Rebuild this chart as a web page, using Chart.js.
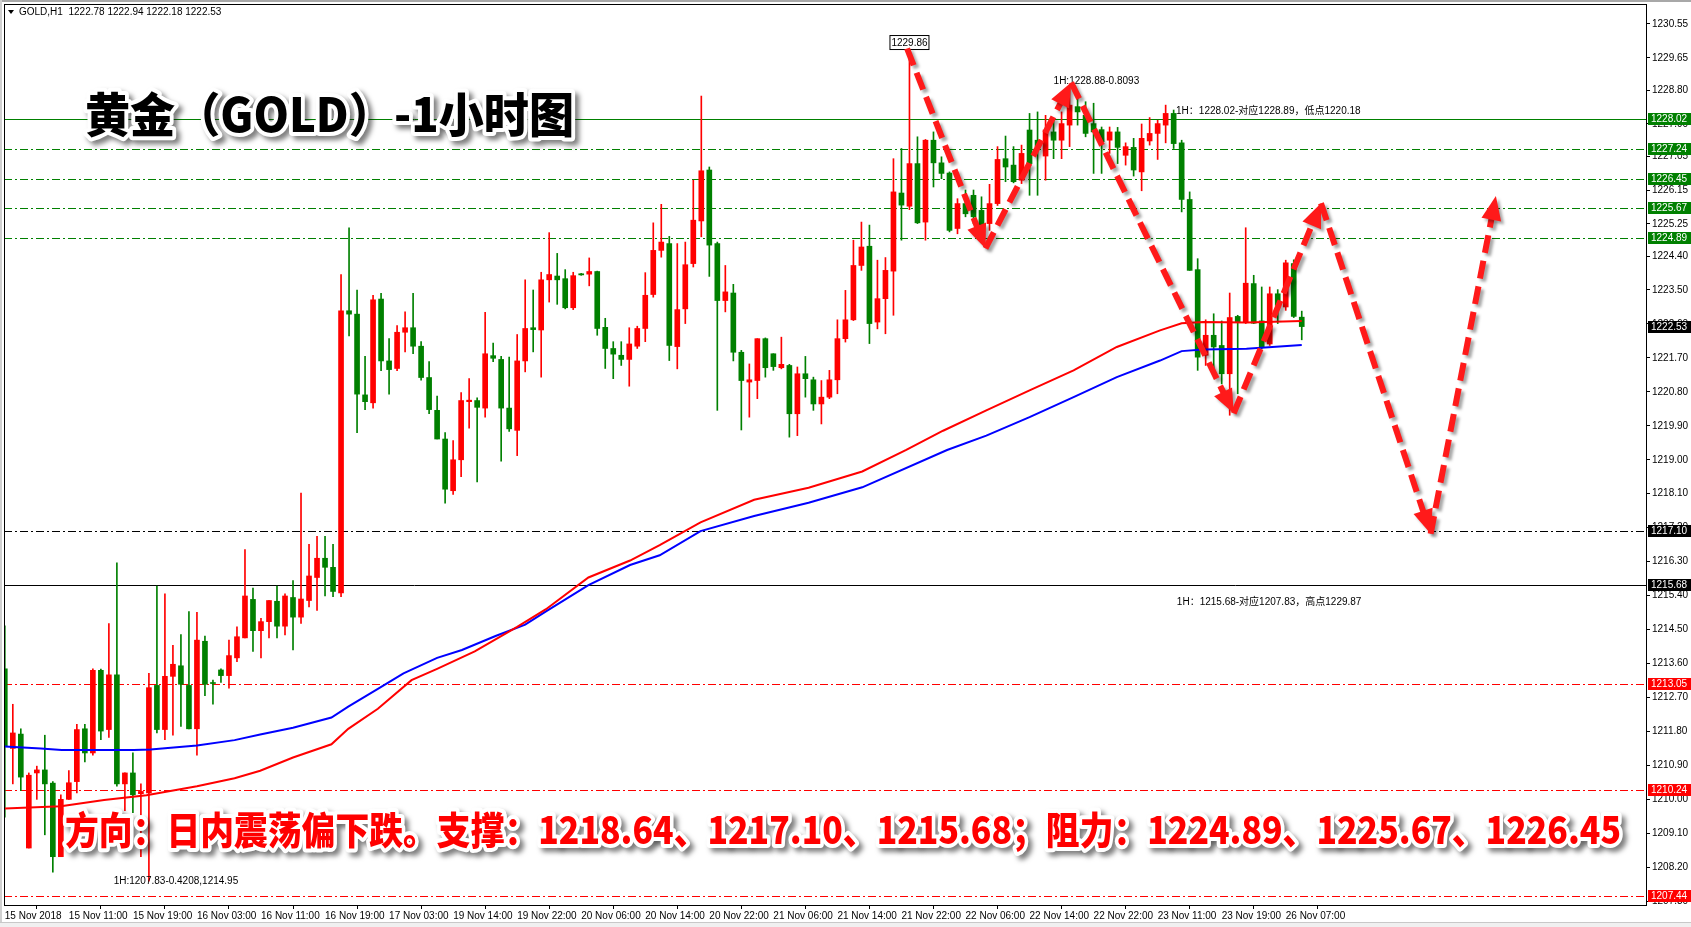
<!DOCTYPE html>
<html>
<head>
<meta charset="utf-8">
<script src="https://cdn.jsdelivr.net/npm/chart.js@4.4.1/dist/chart.umd.min.js"></script>
<style>
html, body { margin: 0; padding: 0; background: #fff; overflow: hidden; }
</style>
</head>
<body>
<canvas id="myChart" width="1691" height="927"></canvas>
<script>
// GOLD H1 candles (bar index 0 = 15 Nov 2018 03:00)
const opens = [1213.46,1211.35,1211.73,1208.71,1210.70,1210.78,1210.43,1208.48,1210.00,1210.47,
  1211.87,1211.23,1213.42,1211.85,1213.30,1210.41,1210.70,1210.15,1210.17,1213.02,
  1211.85,1213.26,1213.54,1213.02,1211.87,1214.19,1213.09,1213.43,1213.28,1213.75,
  1214.28,1215.30,1214.47,1214.71,1215.25,1214.59,1215.35,1214.83,1215.27,1215.88,
  1216.39,1216.15,1215.47,1222.95,1222.86,1220.72,1220.51,1223.26,1221.62,1221.42,
  1222.38,1222.50,1222.01,1221.18,1220.31,1219.55,1218.18,1219.00,1220.54,1220.57,
  1220.37,1221.76,1221.66,1220.37,1219.78,1221.62,1222.50,1222.44,1223.77,1223.87,
  1223.80,1223.03,1223.93,1223.92,1223.99,1222.51,1221.95,1221.77,1221.66,1222.01,
  1222.48,1223.38,1224.55,1224.73,1222.00,1223.00,1224.20,1225.33,1226.68,1224.73,
  1223.22,1223.42,1221.85,1221.06,1221.10,1222.21,1221.81,1221.44,1221.50,1220.22,
  1221.28,1221.12,1220.48,1220.66,1221.12,1222.21,1222.71,1224.15,1224.66,1222.65,
  1223.27,1224.00,1226.07,1225.72,1226.85,1225.30,1227.47,1226.87,1226.60,1225.13,
  1225.79,1226.01,1225.61,1225.26,1225.79,1226.98,1226.81,1226.41,1227.74,1227.47,
  1227.05,1227.69,1227.47,1227.87,1228.36,1228.13,1227.91,1227.75,1227.47,1227.69,
  1227.07,1227.28,1226.63,1227.45,1227.65,1227.87,1228.18,1227.40,1225.90,1224.04,
  1221.77,1222.30,1222.03,1221.28,1222.80,1222.65,1223.67,1222.68,1222.07,1223.40,
  1223.05,1224.20,1222.78];
const highs = [1214.60,1212.52,1211.87,1210.70,1210.88,1211.70,1210.47,1210.12,1210.76,1211.99,
  1211.99,1213.46,1213.45,1214.66,1216.27,1210.70,1211.23,1210.41,1213.34,1215.65,
  1215.45,1214.08,1214.37,1214.98,1214.96,1214.33,1213.16,1213.46,1214.22,1214.57,
  1216.62,1215.60,1214.80,1215.27,1215.65,1215.45,1215.80,1218.12,1216.76,1216.97,
  1216.97,1216.76,1223.91,1225.15,1223.50,1221.74,1223.36,1223.41,1222.21,1222.56,
  1222.92,1223.41,1222.13,1221.60,1220.69,1219.72,1219.51,1220.78,1221.15,1220.64,
  1222.91,1222.09,1221.74,1221.72,1222.32,1223.77,1223.50,1223.97,1225.02,1224.47,
  1224.04,1223.97,1223.94,1224.35,1224.00,1222.75,1222.13,1222.13,1222.50,1222.54,
  1223.96,1225.28,1225.77,1224.92,1224.73,1224.77,1226.41,1228.64,1226.76,1224.77,
  1224.15,1223.65,1221.90,1221.54,1222.21,1222.23,1221.81,1222.25,1221.53,1221.46,
  1221.74,1221.19,1221.10,1221.37,1222.71,1223.49,1224.82,1225.30,1225.22,1224.29,
  1224.36,1226.98,1227.25,1229.86,1227.56,1227.49,1227.69,1227.03,1226.63,1225.92,
  1226.15,1226.15,1225.97,1226.30,1227.30,1227.58,1227.30,1227.34,1228.18,1228.22,
  1228.13,1228.00,1228.22,1228.88,1228.62,1228.49,1228.45,1227.82,1227.82,1227.81,
  1227.40,1227.52,1227.90,1228.07,1228.00,1228.40,1228.27,1227.47,1226.10,1224.33,
  1222.71,1222.87,1222.68,1223.42,1222.83,1225.15,1223.89,1223.58,1223.58,1223.51,
  1224.29,1224.30,1222.94];
const lows = [1209.53,1210.41,1210.23,1208.71,1210.00,1209.06,1208.07,1208.48,1210.00,1210.17,
  1210.99,1211.17,1211.58,1211.64,1210.35,1209.70,1209.65,1208.48,1207.83,1211.76,
  1211.58,1211.70,1211.93,1211.87,1211.17,1212.75,1212.52,1213.10,1212.95,1213.65,
  1214.28,1213.92,1213.75,1214.28,1214.28,1214.36,1213.96,1214.66,1215.10,1215.01,
  1215.39,1215.37,1215.37,1222.28,1219.72,1220.33,1220.37,1221.36,1220.74,1221.36,
  1221.86,1221.81,1221.11,1220.22,1219.55,1217.85,1218.08,1218.55,1219.84,1218.41,
  1220.13,1221.60,1218.96,1219.75,1219.11,1221.33,1221.86,1221.19,1223.18,1223.12,
  1223.00,1222.98,1223.89,1223.61,1222.30,1221.42,1221.15,1221.50,1220.95,1221.95,
  1222.13,1223.31,1224.37,1221.63,1221.41,1222.61,1224.11,1224.91,1223.86,1220.31,
  1222.92,1221.62,1219.79,1220.13,1220.62,1221.19,1221.37,1221.41,1219.60,1219.64,
  1220.66,1220.31,1219.95,1220.62,1220.75,1222.12,1222.69,1224.02,1222.08,1222.47,
  1222.34,1222.83,1224.82,1225.63,1225.26,1224.82,1226.23,1226.45,1225.04,1224.99,
  1225.44,1225.26,1225.17,1225.08,1225.74,1226.37,1226.34,1226.32,1226.01,1226.01,
  1226.41,1226.98,1226.98,1227.30,1227.87,1227.56,1226.59,1226.59,1227.12,1226.85,
  1226.81,1226.52,1226.13,1227.34,1226.96,1227.40,1227.25,1225.57,1224.02,1221.37,
  1221.50,1221.37,1221.01,1220.18,1220.75,1222.61,1222.61,1221.94,1222.03,1222.61,
  1222.96,1222.77,1222.18];
const closes = [1211.40,1211.76,1210.59,1210.64,1210.78,1210.41,1208.48,1210.00,1210.44,1211.85,
  1211.23,1213.42,1211.81,1213.30,1210.41,1210.70,1210.12,1210.21,1212.96,1211.85,
  1213.26,1213.58,1213.05,1211.87,1214.22,1213.05,1213.07,1213.28,1213.81,1214.31,
  1215.39,1214.47,1214.71,1215.27,1214.59,1215.39,1214.83,1215.31,1215.92,1216.39,
  1216.15,1215.51,1222.95,1222.86,1220.74,1220.54,1223.24,1221.62,1221.39,1222.38,
  1222.50,1222.01,1221.18,1220.33,1219.55,1218.22,1219.00,1220.57,1220.58,1220.39,
  1221.81,1221.69,1220.37,1219.82,1221.62,1222.48,1222.45,1223.77,1223.91,1223.77,
  1223.03,1223.88,1223.90,1223.99,1222.48,1221.95,1221.80,1221.66,1222.07,1222.48,
  1223.36,1224.55,1224.77,1222.03,1222.98,1224.17,1225.35,1226.66,1224.69,1223.22,
  1223.45,1221.85,1221.10,1221.12,1222.21,1221.44,1221.47,1221.53,1220.22,1221.28,
  1221.15,1220.48,1220.66,1221.12,1222.21,1222.71,1224.15,1224.64,1222.61,1223.27,
  1224.02,1226.10,1225.75,1226.85,1225.28,1227.47,1226.87,1226.59,1225.08,1225.79,
  1225.52,1225.44,1225.22,1225.79,1226.96,1226.76,1226.37,1227.12,1226.85,1227.30,
  1227.74,1227.47,1227.91,1228.40,1228.22,1227.65,1227.69,1227.43,1227.69,1227.28,
  1227.30,1226.68,1227.52,1227.65,1227.91,1228.18,1227.38,1225.90,1224.02,1221.72,
  1222.30,1221.99,1221.28,1222.77,1222.65,1223.68,1222.62,1221.99,1223.40,1223.09,
  1224.22,1222.80,1222.53];

// moving averages, points [bar, price]
const maRed = [[0,1209.76],[7,1209.82],[12.4,1209.98],[17.7,1210.11],[24,1210.35],[28.7,1210.56],
  [31.9,1210.76],[36,1211.11],[40.8,1211.46],[42.9,1211.87],[46.6,1212.40],[50.8,1213.16],
  [54,1213.46],[58.7,1213.92],[64,1214.57],[67.6,1215.04],[72.9,1215.88],[78.1,1216.33],
  [81.8,1216.74],[86.9,1217.34],[93.6,1217.94],[100.4,1218.26],[107.1,1218.69],[112.6,1219.26],
  [117.2,1219.77],[122.6,1220.31],[128,1220.84],[133.5,1221.37],[138.9,1221.99],[144.3,1222.43],
  [147,1222.62],[149.7,1222.65],[155.1,1222.64],[162,1222.68]];
const maBlue = [[0,1211.40],[4.5,1211.35],[7.1,1211.31],[16.1,1211.31],[18.2,1211.32],[24,1211.43],
  [28.7,1211.57],[31.9,1211.72],[36,1211.90],[40.8,1212.17],[42.9,1212.46],[46.6,1212.93],
  [49.8,1213.34],[54,1213.75],[57.1,1213.96],[61.3,1214.33],[65,1214.63],[67.6,1214.98],
  [72.9,1215.68],[78.1,1216.21],[81.8,1216.47],[86.9,1217.11],[93.6,1217.51],[100.4,1217.86],
  [107.1,1218.27],[117.7,1219.26],[122.6,1219.64],[128,1220.13],[133.5,1220.66],[138.9,1221.19],
  [144.3,1221.63],[147,1221.88],[149.7,1221.92],[155.1,1221.94],[162,1222.04]];

// axis ticks
const xTickBars = [0,8,16,24,32,40,48,56,64,72,80,88,96,104,112,120,128,136,144,152,160];
const xTickLabels = ['15 Nov 2018','15 Nov 11:00','15 Nov 19:00','16 Nov 03:00','16 Nov 11:00',
  '16 Nov 19:00','17 Nov 03:00','19 Nov 14:00','19 Nov 22:00','20 Nov 06:00','20 Nov 14:00',
  '20 Nov 22:00','21 Nov 06:00','21 Nov 14:00','21 Nov 22:00','22 Nov 06:00','22 Nov 14:00',
  '22 Nov 22:00','23 Nov 11:00','23 Nov 19:00','26 Nov 07:00'];
const yTickVals = [1230.55,1229.65,1228.80,1227.90,1227.05,1226.15,1225.25,1224.40,1223.50,
  1222.60,1221.70,1220.80,1219.90,1219.00,1218.10,1217.20,1216.30,1215.40,1214.50,1213.60,
  1212.70,1211.80,1210.90,1210.00,1209.10,1208.20,1207.30];

// horizontal levels
const levelPrices = [1228.02,1227.24,1226.45,1225.67,1224.89,1217.10,1215.68,1213.05,1210.24,1207.44];
const levelKinds  = ['res','res','res','res','res','sup','sup','low','low','low'];
const levelSolid  = [true,false,false,false,false,false,true,false,false,false];
const bidPrice = 1222.53;

// forecast zigzag [bar, price]
const arrowPath = [[112.7,1229.9],[122.5,1224.6],[133.2,1229.0],[153.5,1220.23],[164.4,1225.8],[178.1,1217.04],[186.25,1225.99]];

// text notes [bar, price, text]
const notes = [
  [131, 1229.04, '1H:1228.88-0.8093'],
  [146.3, 1228.24, '1H：1228.02-对应1228.89，低点1220.18'],
  [146.4, 1215.23, '1H：1215.68-对应1207.83，高点1229.87'],
  [13.6, 1207.83, '1H:1207.83-0.4208,1214.95']
];
const peakNote = [113, 1229.86, '1229.86'];
const headerText = 'GOLD,H1  1222.78 1222.94 1222.18 1222.53';
const titleText = '黄金（GOLD）-1小时图';
const bottomText = '方向：日内震荡偏下跌。支撑：1218.64、1217.10、1215.68；阻力：1224.89、1225.67、1226.45';

const UP = '#ff0000';
const DOWN = '#008000';
const KIND_COLORS = { res: '#008000', sup: '#000000', low: '#ff0000' };
const SMALL = '10px "Liberation Sans", "Noto Sans CJK SC", sans-serif';

const candleColor = (c) => closes[c.dataIndex] >= opens[c.dataIndex] ? UP : DOWN;

function bigText(ctx, str, x, yMid, width, size, fill) {
    ctx.save();
    ctx.font = '900 ' + size + 'px "Noto Sans CJK SC", sans-serif';
    const w = ctx.measureText(str).width;
    ctx.translate(x, yMid);
    ctx.scale(width / w, 1);
    ctx.textBaseline = 'middle';
    ctx.textAlign = 'left';
    ctx.lineJoin = 'round';
    ctx.shadowColor = 'rgba(0,0,0,0.5)';
    ctx.shadowBlur = 5;
    ctx.shadowOffsetX = 4;
    ctx.shadowOffsetY = 4;
    ctx.lineWidth = 8;
    ctx.strokeStyle = '#fff';
    ctx.strokeText(str, 0, 0);
    ctx.shadowColor = 'transparent';
    ctx.fillStyle = fill;
    ctx.fillText(str, 0, 0);
    ctx.restore();
}

const overlay = {
    id: 'overlay',
    beforeDraw(chart) {
        const {ctx, chartArea: a, scales: {y}} = chart;
        ctx.save();
        ctx.fillStyle = '#fff';
        ctx.fillRect(0, 0, chart.width, chart.height);
        ctx.fillStyle = '#a8a8a8';
        ctx.fillRect(0, 0, chart.width, 2);
        ctx.fillStyle = '#d0d0d0';
        ctx.fillRect(0, 0, 2, chart.height);
        ctx.fillStyle = '#f0f0f0';
        ctx.fillRect(0, 922, chart.width, 5);
        ctx.fillStyle = '#c8c8c8';
        ctx.fillRect(0, 922, chart.width, 1);
        ctx.lineWidth = 1;
        levelPrices.forEach((p, i) => {
            const py = Math.round(y.getPixelForValue(p)) + 0.5;
            ctx.strokeStyle = KIND_COLORS[levelKinds[i]];
            ctx.setLineDash(levelSolid[i] ? [] : [8, 3, 2, 3]);
            ctx.beginPath();
            ctx.moveTo(a.left, py);
            ctx.lineTo(a.right, py);
            ctx.stroke();
        });
        ctx.restore();
    },
    afterDraw(chart) {
        const {ctx, chartArea: a, scales: {x, y}} = chart;
        ctx.save();

        // frame
        ctx.strokeStyle = '#000';
        ctx.lineWidth = 1;
        ctx.strokeRect(a.left + 0.5, a.top + 0.5, a.right - a.left, a.bottom - a.top);

        // small notes
        ctx.font = SMALL;
        ctx.fillStyle = '#000';
        ctx.textBaseline = 'middle';
        ctx.textAlign = 'left';
        notes.forEach(n => ctx.fillText(n[2], x.getPixelForValue(n[0]), y.getPixelForValue(n[1])));

        // peak box
        const bx = x.getPixelForValue(peakNote[0]);
        const by = y.getPixelForValue(peakNote[1]);
        ctx.fillStyle = '#fff';
        ctx.fillRect(bx - 20, by - 15, 40, 15);
        ctx.strokeRect(bx - 19.5, by - 14.5, 39, 14);
        ctx.fillStyle = '#000';
        ctx.textAlign = 'center';
        ctx.fillText(peakNote[2], bx, by - 7);

        // zigzag arrows
        ctx.shadowColor = 'rgba(0,0,0,0.35)';
        ctx.shadowBlur = 3;
        ctx.shadowOffsetX = 3;
        ctx.shadowOffsetY = 3;
        ctx.strokeStyle = '#ff1a1a';
        ctx.fillStyle = '#ff1a1a';
        ctx.lineWidth = 6;
        for (let i = 0; i < arrowPath.length - 1; i++) {
            const x1 = x.getPixelForValue(arrowPath[i][0]), y1 = y.getPixelForValue(arrowPath[i][1]);
            const x2 = x.getPixelForValue(arrowPath[i + 1][0]), y2 = y.getPixelForValue(arrowPath[i + 1][1]);
            const ang = Math.atan2(y2 - y1, x2 - x1);
            const len = Math.hypot(x2 - x1, y2 - y1);
            const head = 24;
            ctx.setLineDash([18, 8]);
            ctx.beginPath();
            ctx.moveTo(x1, y1);
            ctx.lineTo(x1 + Math.cos(ang) * (len - head + 2), y1 + Math.sin(ang) * (len - head + 2));
            ctx.stroke();
            ctx.setLineDash([]);
            ctx.save();
            ctx.translate(x2, y2);
            ctx.rotate(ang);
            ctx.beginPath();
            ctx.moveTo(0, 0);
            ctx.lineTo(-head, -10);
            ctx.lineTo(-head, 10);
            ctx.closePath();
            ctx.fill();
            ctx.restore();
        }
        ctx.shadowColor = 'transparent';

        // price labels on the axis
        const tag = (p, col) => {
            const py = Math.round(y.getPixelForValue(p));
            ctx.fillStyle = col;
            ctx.fillRect(a.right + 2, py - 6, 43, 12);
            ctx.fillStyle = '#fff';
            ctx.font = SMALL;
            ctx.textAlign = 'left';
            ctx.textBaseline = 'middle';
            ctx.fillText(p.toFixed(2), a.right + 5, py);
        };
        levelPrices.forEach((p, i) => tag(p, KIND_COLORS[levelKinds[i]]));
        tag(bidPrice, '#000');

        // header
        ctx.fillStyle = '#000';
        ctx.beginPath();
        ctx.moveTo(8, 10);
        ctx.lineTo(14, 10);
        ctx.lineTo(11, 14);
        ctx.closePath();
        ctx.fill();
        ctx.font = SMALL;
        ctx.textAlign = 'left';
        ctx.textBaseline = 'middle';
        ctx.fillText(headerText, 19, 12);

        ctx.restore();

        bigText(ctx, titleText, 85, 114, 489, 47, '#000');
        bigText(ctx, bottomText, 65, 830, 1556, 38, '#ff0000');
    }
};

const ctx = document.getElementById('myChart');
new Chart(ctx, {
    type: 'bar',
    data: {
        datasets: [
            {
                type: 'line', data: maRed.map(p => ({x: p[0], y: p[1]})),
                borderColor: '#ff0000', borderWidth: 2, pointRadius: 0, tension: 0
            },
            {
                type: 'line', data: maBlue.map(p => ({x: p[0], y: p[1]})),
                borderColor: '#0000ff', borderWidth: 2, pointRadius: 0, tension: 0
            },
            {
                data: opens.map((o, i) => ({x: i, y: [o, closes[i]]})),
                backgroundColor: candleColor, borderWidth: 0,
                barThickness: 5, minBarLength: 1, grouped: false
            },
            {
                data: lows.map((l, i) => ({x: i, y: [l, highs[i]]})),
                backgroundColor: candleColor, borderWidth: 0,
                barThickness: 1, minBarLength: 1, grouped: false
            }
        ]
    },
    options: {
        responsive: false,
        animation: false,
        events: [],
        layout: { padding: { left: 4, top: 4, right: 0, bottom: 0 } },
        plugins: {
            legend: { display: false },
            tooltip: { enabled: false }
        },
        scales: {
            x: {
                type: 'linear', min: -0.1, max: 205, offset: false,
                afterBuildTicks: (s) => { s.ticks = xTickBars.map(v => ({value: v})); },
                afterFit: (s) => { s.height = 22; s.paddingLeft = 0; s.paddingRight = 0; },
                ticks: {
                    autoSkip: false, maxRotation: 0, align: 'start', padding: 1,
                    color: '#000', font: { family: '"Liberation Sans", sans-serif', size: 10 },
                    callback: (v) => xTickLabels[xTickBars.indexOf(v)]
                },
                grid: { drawOnChartArea: false, tickLength: 4, color: '#000' },
                border: { color: '#000' }
            },
            y: {
                position: 'right', min: 1207.20, max: 1231.08,
                afterBuildTicks: (s) => { s.ticks = yTickVals.map(v => ({value: v})); },
                afterFit: (s) => { s.width = 45; s.paddingTop = 0; s.paddingBottom = 0; },
                ticks: {
                    autoSkip: false, padding: 2, color: '#000',
                    font: { family: '"Liberation Sans", sans-serif', size: 10 },
                    callback: (v) => v.toFixed(2)
                },
                grid: { drawOnChartArea: false, tickLength: 4, color: '#000' },
                border: { color: '#000' }
            }
        }
    },
    plugins: [overlay]
});
</script>
</body>
</html>
